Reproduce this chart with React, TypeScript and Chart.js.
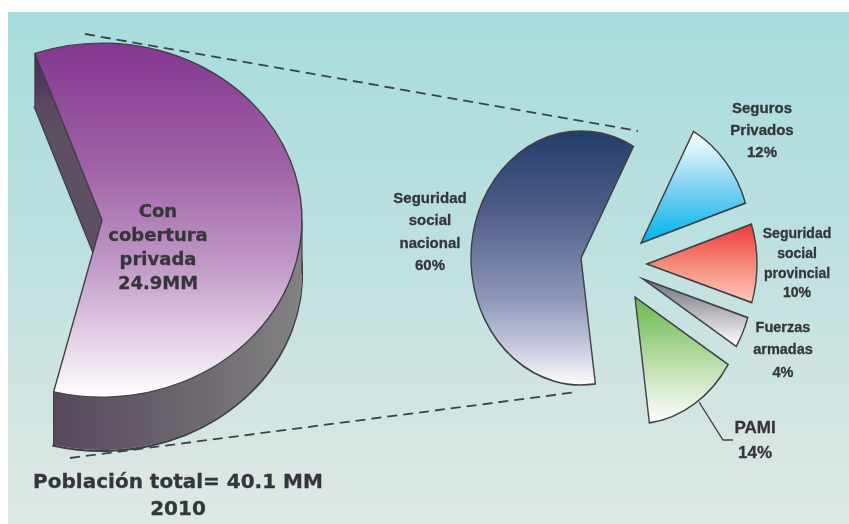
import React, { useEffect, useRef } from "react";
import { Chart, registerables } from "chart.js";

Chart.register(...registerables);

// ---------- data ----------
const coverageLabels = ["Con cobertura privada", "Sin cobertura privada"];
const coverageValues = [24.9, 15.2];

const privateLabels = ["Seguros Privados", "Seguridad social provincial", "Fuerzas armadas", "PAMI", "Seguridad social nacional"];
const privateValues = [12, 10, 4, 14, 60];

type Note = { lines: string[]; cx: number; y: number[]; font: string; size: number };
const notes: Note[] = [
  { lines: ["Con", "cobertura", "privada", "24.9MM"], cx: 158, y: [211, 235, 259, 283], font: "DejaVu Sans", size: 18 },
  { lines: ["Población total= 40.1 MM"], cx: 178, y: [481], font: "DejaVu Sans", size: 20 },
  { lines: ["2010"], cx: 178, y: [508], font: "DejaVu Sans", size: 20 },
  { lines: ["Seguridad", "social", "nacional", "60%"], cx: 430, y: [198, 220, 243, 265], font: "Liberation Sans", size: 15 },
  { lines: ["Seguros", "Privados", "12%"], cx: 762, y: [108, 130, 152], font: "Liberation Sans", size: 15 },
  { lines: ["Seguridad", "social", "provincial", "10%"], cx: 797, y: [233, 253, 273, 292], font: "Liberation Sans", size: 14 },
  { lines: ["Fuerzas", "armadas", "4%"], cx: 783, y: [327, 349, 372], font: "Liberation Sans", size: 14.5 },
  { lines: ["PAMI", "14%"], cx: 755, y: [428, 453], font: "Liberation Sans", size: 17 },
];

// ---------- layout & style ----------
const EDGE = "#3f3f45";
const LEFT = { cx: 102, cy: 220, r: 200, k: 177 / 200, depth: 54, size: 540, rotation: -19.6, circumference: 344 };
const RIGHT = { cx: 580, cy: 258, r: 110, k: 127 / 110, size: 540, rotation: 28.5 };
const sliceShift = [
  [61, -15],
  [67, 6],
  [63, 21],
  [55, 39],
  [1, 0],
];
const sliceGradients: [number, number, [number, string][]][] = [
  [132, 242, [[0, "#ffffff"], [0.5, "#7fd3f2"], [1, "#00b2ec"]]],
  [226, 302, [[0, "#ee3c3e"], [0.5, "#f58a78"], [1, "#ffc8bc"]]],
  [279, 345, [[0, "#70707a"], [0.5, "#b4b4ba"], [1, "#ffffff"]]],
  [298, 423, [[0, "#68ba52"], [0.5, "#b7dca6"], [1, "#ffffff"]]],
  [132, 387, [[0, "#243d6b"], [0.3, "#4d5c87"], [0.65, "#8e96b8"], [0.85, "#c9cbde"], [1, "#ffffff"]]],
];
const purpleStops: [number, string][] = [[0, "#843790"], [0.35, "#9f62a5"], [0.62, "#c097c6"], [0.85, "#e7d5e9"], [1, "#ffffff"]];

function makeGradient(
  ctx: CanvasRenderingContext2D,
  g: { cy: number; k: number; size: number; top: number },
  y0: number,
  y1: number,
  stops: [number, string][],
) {
  const c = g.size / 2;
  const toUser = (pageY: number) => c + (pageY - g.top - c) / g.k;
  const grad = ctx.createLinearGradient(0, toUser(y0), 0, toUser(y1));
  stops.forEach(([o, col]) => grad.addColorStop(o, col));
  return grad;
}

const squash = (k: number, after?: (chart: any, ctx: CanvasRenderingContext2D) => void, shift?: number[][]) => ({
  id: "squash",
  beforeDatasetsDraw(chart: any) {
    const ctx = chart.ctx as CanvasRenderingContext2D;
    const c = chart.width / 2;
    const els = chart.getDatasetMeta(0).data;
    els.forEach((el: any, i: number) => {
      const s = shift ? shift[i] : [0, 0];
      el.x = c + s[0];
      el.y = c + s[1] / k;
    });
    ctx.save();
    ctx.translate(c, c);
    ctx.scale(1, k);
    ctx.translate(-c, -c);
    if (after) after(chart, ctx);
  },
  afterDatasetsDraw(chart: any) {
    chart.ctx.restore();
  },
});

function drawWall(chart: any, ctx: CanvasRenderingContext2D) {
  const el = chart.getDatasetMeta(0).data[0];
  const orig = el.options;
  const { depth, k, size } = LEFT;
  const top = LEFT.cy - size / 2;
  const c = size / 2;
  const toUser = (pageY: number) => c + (pageY - top - c) / k;
  const lx = size / 2 - LEFT.cx;

  // Rim first: the copies above hide its inner half and the hidden stretches.
  ctx.save();
  ctx.translate(0, depth / k);
  el.options = { ...orig, backgroundColor: "rgba(0,0,0,0)", borderWidth: 2.4 };
  el.draw(ctx);
  ctx.restore();

  const side = ctx.createLinearGradient(lx + 50, 0, lx + 303, 0);
  side.addColorStop(0, "#57475d");
  side.addColorStop(0.5, "#6a636d");
  side.addColorStop(1, "#838383");

  for (let d = depth - 1; d >= 1; d--) {
    ctx.save();
    ctx.translate(0, d / k);
    el.options = { ...orig, backgroundColor: side, borderWidth: 0 };
    el.draw(ctx);
    ctx.restore();
  }

  // Upper left face, which runs darker towards its top.
  ctx.save();
  ctx.beginPath();
  ctx.rect(0, 0, lx + 110, toUser(285));
  ctx.clip();
  for (let d = depth - 1; d >= 1; d--) {
    ctx.save();
    ctx.translate(0, d / k);
    const up = ctx.createLinearGradient(0, toUser(53) - d / k, 0, toUser(135) - d / k);
    up.addColorStop(0, "#45265a");
    up.addColorStop(0.6, "#5a4660");
    up.addColorStop(1, "#5e4f63");
    el.options = { ...orig, backgroundColor: up, borderWidth: 0 };
    el.draw(ctx);
    ctx.restore();
  }
  ctx.restore();
  el.options = orig;

  ctx.strokeStyle = EDGE;
  ctx.lineWidth = 1.2;
  const edge = (x: number, y: number) => {
    ctx.beginPath();
    ctx.moveTo(x, y);
    ctx.lineTo(x, y + depth / k);
    ctx.stroke();
  };
  edge(el.x + el.outerRadius * Math.cos(el.startAngle), el.y + el.outerRadius * Math.sin(el.startAngle));
  edge(el.x + el.outerRadius * Math.cos(el.endAngle), el.y + el.outerRadius * Math.sin(el.endAngle));
  edge(el.x + el.outerRadius, el.y);
}

export default function App() {
  const leftRef = useRef<HTMLCanvasElement>(null);
  const rightRef = useRef<HTMLCanvasElement>(null);

  useEffect(() => {
    const lctx = leftRef.current!.getContext("2d")!;
    const rctx = rightRef.current!.getContext("2d")!;
    const lGeo = { cy: LEFT.cy, k: LEFT.k, size: LEFT.size, top: LEFT.cy - LEFT.size / 2 };
    const rGeo = { cy: RIGHT.cy, k: RIGHT.k, size: RIGHT.size, top: RIGHT.cy - RIGHT.size / 2 };

    const common = {
      responsive: false,
      animation: false as const,
      events: [] as any[],
      layout: { padding: 0 },
      plugins: { legend: { display: false }, tooltip: { enabled: false } },
    };

    const left = new Chart(leftRef.current!, {
      type: "pie",
      data: {
        labels: coverageLabels,
        datasets: [
          {
            data: coverageValues,
            backgroundColor: [makeGradient(lctx, lGeo, 43, 397, purpleStops), "rgba(0,0,0,0)"],
            borderColor: [EDGE, "rgba(0,0,0,0)"],
            borderWidth: [1.4, 0],
            borderJoinStyle: "miter",
          } as any,
        ],
      },
      options: { ...common, radius: LEFT.r, rotation: LEFT.rotation, circumference: LEFT.circumference } as any,
      plugins: [squash(LEFT.k, drawWall)],
    });

    const right = new Chart(rightRef.current!, {
      type: "pie",
      data: {
        labels: privateLabels,
        datasets: [
          {
            data: privateValues,
            backgroundColor: sliceGradients.map(([a, b, s]) => makeGradient(rctx, rGeo, a, b, s)),
            borderColor: EDGE,
            borderWidth: 1.4,
            borderJoinStyle: "miter",
          } as any,
        ],
      },
      options: { ...common, radius: RIGHT.r, rotation: RIGHT.rotation } as any,
      plugins: [squash(RIGHT.k, undefined, sliceShift)],
    });

    return () => {
      left.destroy();
      right.destroy();
    };
  }, []);

  return (
    <div style={{ position: "fixed", left: 0, top: 0, width: 849, height: 524, overflow: "hidden", background: "#fff" }}>
      <div style={{ position: "absolute", inset: 0, filter: "blur(0.45px)" }}>
        <div
          style={{
            position: "absolute",
            left: 8,
            top: 12,
            width: 841,
            height: 512,
            background: "linear-gradient(180deg, #a9dcdc 0%, #b9e0df 40%, #cfe4e1 72%, #dfe8e5 100%)",
          }}
        />
        <canvas
          ref={leftRef}
          width={LEFT.size}
          height={LEFT.size}
          style={{ position: "absolute", left: LEFT.cx - LEFT.size / 2, top: LEFT.cy - LEFT.size / 2 }}
        />
        <canvas
          ref={rightRef}
          width={RIGHT.size}
          height={RIGHT.size}
          style={{ position: "absolute", left: RIGHT.cx - RIGHT.size / 2, top: RIGHT.cy - RIGHT.size / 2 }}
        />
        <svg width={849} height={524} style={{ position: "absolute", left: 0, top: 0 }}>
          <line x1={85} y1={34} x2={638} y2={131} stroke="#3a4547" strokeWidth={1.8} strokeDasharray="10 6" />
          <line x1={70} y1={458} x2={577} y2={392} stroke="#3a4547" strokeWidth={1.8} strokeDasharray="10 6" />
          <polyline points="699,402 723,440 733,440" fill="none" stroke="#3f4548" strokeWidth={1.4} />
        </svg>
        {notes.flatMap((n, i) =>
          n.lines.map((t, j) => (
            <div
              key={`${i}-${j}`}
              style={{
                position: "absolute",
                left: n.cx - 150,
                width: 300,
                top: n.y[j] - 15,
                height: 30,
                lineHeight: "30px",
                textAlign: "center",
                fontFamily: `"${n.font}", sans-serif`,
                fontWeight: 700,
                fontSize: n.size,
                color: "#35363a",
                whiteSpace: "nowrap",
                WebkitTextStroke: "0.3px #35363a",
              }}
            >
              {t}
            </div>
          )),
        )}
      </div>
    </div>
  );
}
